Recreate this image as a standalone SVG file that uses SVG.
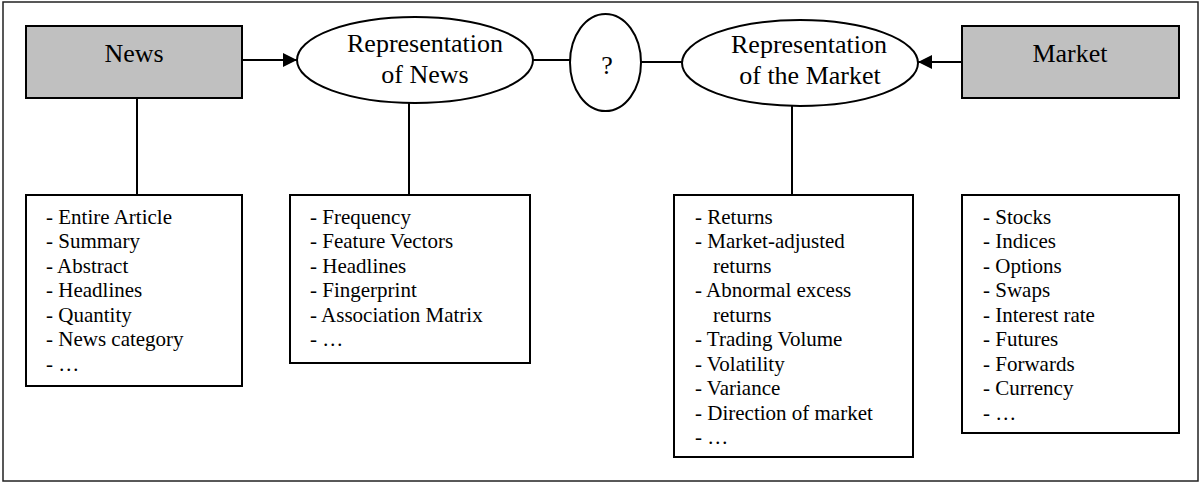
<svg xmlns="http://www.w3.org/2000/svg" width="1202" height="483" viewBox="0 0 1202 483">
  <style>
    text { font-family: "Liberation Serif", "Times New Roman", serif; fill: #000; }
    .title { font-size: 26px; text-anchor: middle; }
    .list { font-size: 21px; }
    .source { fill: #c0c0c0; stroke: #000; stroke-width: 2; }
    .concept { fill: #fff; stroke: #000; stroke-width: 2; }
    .listbox { fill: #fff; stroke: #000; stroke-width: 2; }
    .link { stroke: #000; stroke-width: 2; fill: none; }
  </style>
  <defs>
    <marker id="arrowhead" markerUnits="userSpaceOnUse" markerWidth="15" markerHeight="15" refX="14" refY="7" orient="auto">
      <path d="M0,0 L14,7 L0,14 z" fill="#000"/>
    </marker>
  </defs>

  <!-- outer frame -->
  <rect x="3" y="2" width="1195" height="479" fill="#fff" stroke="#222" stroke-width="1.5"/>

  <!-- connectors -->
  <g id="connectors">
    <line class="link" x1="242" y1="60" x2="297" y2="60" marker-end="url(#arrowhead)"/>
    <line class="link" x1="533" y1="60" x2="570" y2="60"/>
    <line class="link" x1="641" y1="62" x2="682" y2="62"/>
    <line class="link" x1="962" y1="62" x2="918" y2="62" marker-end="url(#arrowhead)"/>
    <line class="link" x1="137" y1="98" x2="137" y2="195"/>
    <line class="link" x1="409" y1="103" x2="409" y2="195"/>
    <line class="link" x1="792" y1="106" x2="792" y2="195"/>
  </g>

  <!-- top row -->
  <g id="news">
    <rect class="source" x="26" y="26" width="216" height="72"/>
    <text class="title" x="134" y="62">News</text>
  </g>
  <g id="news-representation">
    <ellipse class="concept" cx="415" cy="60" rx="118" ry="43"/>
    <text class="title" x="425" y="52">Representation</text>
    <text class="title" x="425" y="83">of News</text>
  </g>
  <g id="unknown-link">
    <ellipse class="concept" cx="605.5" cy="62.5" rx="35.5" ry="48.5"/>
    <text class="title" x="607" y="74">?</text>
  </g>
  <g id="market-representation">
    <ellipse class="concept" cx="800" cy="63" rx="118" ry="43"/>
    <text class="title" x="809" y="53">Representation</text>
    <text class="title" x="810" y="84">of the Market</text>
  </g>
  <g id="market">
    <rect class="source" x="962" y="26" width="217" height="72"/>
    <text class="title" x="1070" y="62">Market</text>
  </g>

  <!-- detail lists -->
  <g id="news-forms">
    <rect class="listbox" x="26" y="195" width="216" height="191"/>
    <text class="list" x="46" y="223.5">- Entire Article</text>
    <text class="list" x="46" y="248">- Summary</text>
    <text class="list" x="46" y="272.5">- Abstract</text>
    <text class="list" x="46" y="297">- Headlines</text>
    <text class="list" x="46" y="321.5">- Quantity</text>
    <text class="list" x="46" y="346">- News category</text>
    <text class="list" x="46" y="370.5">- …</text>
  </g>
  <g id="news-representation-forms">
    <rect class="listbox" x="290" y="195" width="240" height="168"/>
    <text class="list" x="310" y="223.5">- Frequency</text>
    <text class="list" x="310" y="248">- Feature Vectors</text>
    <text class="list" x="310" y="272.5">- Headlines</text>
    <text class="list" x="310" y="297">- Fingerprint</text>
    <text class="list" x="310" y="321.5">- Association Matrix</text>
    <text class="list" x="310" y="346">- …</text>
  </g>
  <g id="market-representation-forms">
    <rect class="listbox" x="674" y="195" width="239" height="262"/>
    <text class="list" x="695" y="223.5">- Returns</text>
    <text class="list" x="695" y="248">- Market-adjusted</text>
    <text class="list" x="713" y="272.5">returns</text>
    <text class="list" x="695" y="297">- Abnormal excess</text>
    <text class="list" x="713" y="321.5">returns</text>
    <text class="list" x="695" y="346">- Trading Volume</text>
    <text class="list" x="695" y="370.5">- Volatility</text>
    <text class="list" x="695" y="395">- Variance</text>
    <text class="list" x="695" y="419.5">- Direction of market</text>
    <text class="list" x="695" y="444">- …</text>
  </g>
  <g id="market-forms">
    <rect class="listbox" x="962" y="195" width="217" height="238"/>
    <text class="list" x="983" y="223.5">- Stocks</text>
    <text class="list" x="983" y="248">- Indices</text>
    <text class="list" x="983" y="272.5">- Options</text>
    <text class="list" x="983" y="297">- Swaps</text>
    <text class="list" x="983" y="321.5">- Interest rate</text>
    <text class="list" x="983" y="346">- Futures</text>
    <text class="list" x="983" y="370.5">- Forwards</text>
    <text class="list" x="983" y="395">- Currency</text>
    <text class="list" x="983" y="419.5">- …</text>
  </g>
</svg>
